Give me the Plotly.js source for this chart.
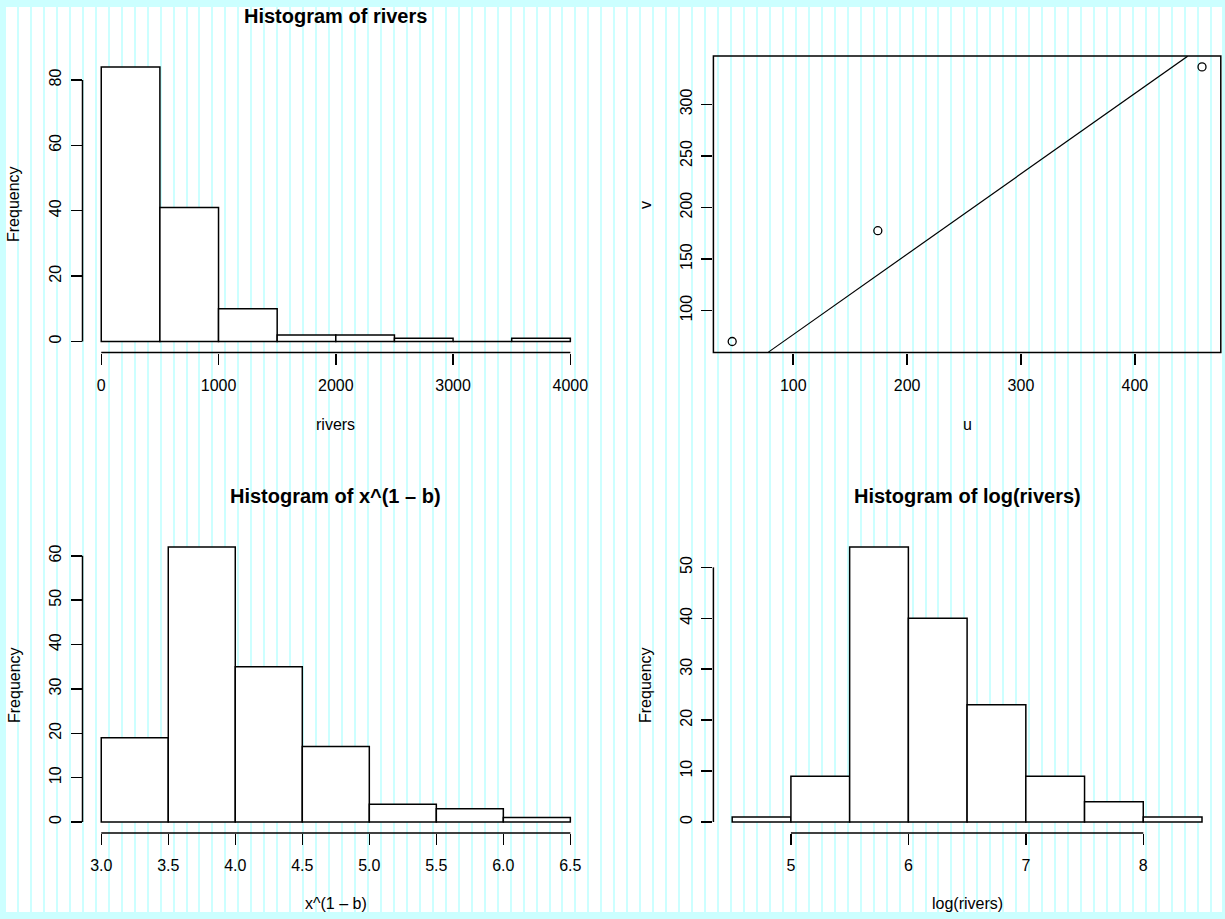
<!DOCTYPE html>
<html>
<head>
<meta charset="utf-8">
<script src="https://cdn.plot.ly/plotly-3.0.1.min.js"></script>
<style>
  html, body { margin: 0; padding: 0; background: #ccffff; }
  #frame { position: absolute; left: 0; top: 0; width: 1225px; height: 919px; background: #ccffff; overflow: hidden; }
  #paper { position: absolute; left: 6px; top: 7px; width: 1216px; height: 905px; background: #ffffff; overflow: hidden; }
  #stripes { position: absolute; left: -1.965px; top: 0; width: 1240px; height: 905px;
    background: repeating-linear-gradient(to right, #ccffff 0px, #ccffff 2px, #ffffff 2px, #ffffff 12.965px); }
  #chart { position: absolute; left: 0; top: 0; width: 1225px; height: 919px; }
</style>
</head>
<body>
<div id="frame"><div id="paper"><div id="stripes"></div></div></div>
<div id="chart"></div>
<script>
// ---------- data ----------
const riversBreaks = [0, 500, 1000, 1500, 2000, 2500, 3000, 3500, 4000];
const riversCounts = [84, 41, 10, 2, 2, 1, 0, 1];

const powBreaks = [3.0, 3.5, 4.0, 4.5, 5.0, 5.5, 6.0, 6.5];
const powCounts = [19, 62, 35, 17, 4, 3, 1];

const logBreaks = [4.5, 5.0, 5.5, 6.0, 6.5, 7.0, 7.5, 8.0, 8.5];
const logCounts = [1, 9, 54, 40, 23, 9, 4, 1];

const u = [46.4, 174.3, 459.0];
const v = [70.0, 177.5, 336.4];
const lineU = [78.2, 446.4];
const lineV = [59.7, 346.8];

const x1Ticks = [0, 1000, 2000, 3000, 4000];
const x1Labels = ["0", "1000", "2000", "3000", "4000"];
const y1Ticks = [0, 20, 40, 60, 80];
const y1Labels = ["0", "20", "40", "60", "80"];

const x2Ticks = [100, 200, 300, 400];
const x2Labels = ["100", "200", "300", "400"];
const y2Ticks = [100, 150, 200, 250, 300];
const y2Labels = ["100", "150", "200", "250", "300"];

const x3Ticks = [3.0, 3.5, 4.0, 4.5, 5.0, 5.5, 6.0, 6.5];
const x3Labels = ["3.0", "3.5", "4.0", "4.5", "5.0", "5.5", "6.0", "6.5"];
const y3Ticks = [0, 10, 20, 30, 40, 50, 60];
const y3Labels = ["0", "10", "20", "30", "40", "50", "60"];

const x4Ticks = [5, 6, 7, 8];
const x4Labels = ["5", "6", "7", "8"];
const y4Ticks = [0, 10, 20, 30, 40, 50];
const y4Labels = ["0", "10", "20", "30", "40", "50"];

const titles = ["Histogram of rivers", "Histogram of x^(1 \u2013 b)", "Histogram of log(rivers)"];
const xLabels = ["rivers", "u", "x^(1 \u2013 b)", "log(rivers)"];
const yLabels = ["Frequency", "v", "Frequency", "Frequency"];

// ---------- layout geometry ----------
const W = 1225, H = 919;
const FONT = "Liberation Sans, Arial, Helvetica, sans-serif";
const px = p => p / W;
const py = p => 1 - p / H;

const colL = [px(82.5), px(589.1)];
const colR = [px(713.4), px(1220.8)];
const rowT = [py(352.5), py(55.9)];
const rowB = [py(833.0), py(536.0)];

function pad(lo, hi) { const d = (hi - lo) * 0.04; return [lo - d, hi + d]; }

function xAxis(domain, range, tv, tt, anchor, extra) {
  return Object.assign({
    domain: domain, range: range, anchor: anchor,
    tickmode: "array", tickvals: tv, ticktext: tt,
    ticks: "outside", ticklen: 11, tickwidth: 1.5, tickcolor: "#000",
    showline: false, showgrid: false, zeroline: false,
    ticklabelstandoff: 7,
    tickfont: { family: FONT, size: 16, color: "#000" },
    fixedrange: true
  }, extra || {});
}
function yAxis(domain, range, tv, tt, anchor, extra) {
  return Object.assign({
    domain: domain, range: range, anchor: anchor,
    tickmode: "array", tickvals: tv, ticktext: tt, tickangle: -90,
    ticks: "outside", ticklen: 11, tickwidth: 1.5, tickcolor: "#000",
    showline: false, showgrid: false, zeroline: false,
    ticklabelstandoff: 3,
    tickfont: { family: FONT, size: 16, color: "#000" },
    fixedrange: true
  }, extra || {});
}

function histTrace(breaks, counts, xa, ya) {
  const mids = [], widths = [];
  for (let i = 0; i < counts.length; i++) {
    mids.push((breaks[i] + breaks[i + 1]) / 2);
    widths.push(breaks[i + 1] - breaks[i]);
  }
  return {
    type: "bar", x: mids, y: counts, width: widths, base: 0,
    marker: { color: "#ffffff", line: { color: "#000", width: 1.5 } },
    xaxis: xa, yaxis: ya, hoverinfo: "skip", showlegend: false
  };
}

const traces = [
  histTrace(riversBreaks, riversCounts, "x", "y"),
  histTrace(powBreaks, powCounts, "x3", "y3"),
  histTrace(logBreaks, logCounts, "x4", "y4"),
  { type: "scatter", mode: "lines", x: lineU, y: lineV, xaxis: "x2", yaxis: "y2",
    line: { color: "#000", width: 1.2 }, hoverinfo: "skip", showlegend: false },
  { type: "scatter", mode: "markers", x: u, y: v, xaxis: "x2", yaxis: "y2",
    marker: { symbol: "circle-open", size: 8, color: "#000", line: { width: 1.3, color: "#000" } },
    hoverinfo: "skip", showlegend: false }
];

function axisLineX(xref, yref, a, b) {
  return { type: "line", xref: xref, yref: yref + " domain", x0: a, x1: b, y0: 0, y1: 0,
           line: { color: "#000", width: 1.5 } };
}
function axisLineY(xref, yref, a, b) {
  return { type: "line", xref: xref + " domain", yref: yref, x0: 0, x1: 0, y0: a, y1: b,
           line: { color: "#000", width: 1.5 } };
}

const shapes = [
  axisLineX("x", "y", x1Ticks[0], x1Ticks[x1Ticks.length - 1]),
  axisLineY("x", "y", y1Ticks[0], y1Ticks[y1Ticks.length - 1]),
  axisLineX("x3", "y3", x3Ticks[0], x3Ticks[x3Ticks.length - 1]),
  axisLineY("x3", "y3", y3Ticks[0], y3Ticks[y3Ticks.length - 1]),
  axisLineX("x4", "y4", x4Ticks[0], x4Ticks[x4Ticks.length - 1]),
  axisLineY("x4", "y4", y4Ticks[0], y4Ticks[y4Ticks.length - 1]),
  { type: "rect", xref: "x2 domain", yref: "y2 domain", x0: 0, x1: 1, y0: 0, y1: 1,
    line: { color: "#000", width: 1.5 } }
];

function ann(text, x, y, opts) {
  return Object.assign({
    text: text, xref: "paper", yref: "paper", x: x, y: y,
    xanchor: "center", yanchor: "middle", showarrow: false,
    font: { family: FONT, size: 16, color: "#000" }
  }, opts || {});
}
const bold = { family: FONT, size: 20, color: "#000", weight: "bold" };
const midL = (colL[0] + colL[1]) / 2, midR = (colR[0] + colR[1]) / 2;

const annotations = [
  ann("<b>" + titles[0] + "</b>", midL, py(16), { font: bold }),
  ann("<b>" + titles[1] + "</b>", midL, py(495.5), { font: bold }),
  ann("<b>" + titles[2] + "</b>", midR, py(495.5), { font: bold }),
  ann(xLabels[0], midL, py(424)),
  ann(xLabels[1], midR, py(424)),
  ann(xLabels[2], midL, py(903.5)),
  ann(xLabels[3], midR, py(903.5)),
  ann(yLabels[0], px(14), py(204), { textangle: -90 }),
  ann(yLabels[1], px(646), py(205), { textangle: -90 }),
  ann(yLabels[2], px(14), py(685), { textangle: -90 }),
  ann(yLabels[3], px(645), py(685), { textangle: -90 })
];

const layout = {
  width: W, height: H,
  margin: { l: 0, r: 0, t: 0, b: 0, pad: 0 },
  paper_bgcolor: "rgba(0,0,0,0)", plot_bgcolor: "rgba(0,0,0,0)",
  showlegend: false, barmode: "overlay",
  font: { family: FONT, size: 16, color: "#000" },
  xaxis:  xAxis(colL, pad(riversBreaks[0], riversBreaks[riversBreaks.length - 1]), x1Ticks, x1Labels, "y"),
  yaxis:  yAxis(rowT, pad(0, Math.max.apply(null, riversCounts)), y1Ticks, y1Labels, "x"),
  xaxis2: xAxis(colR, pad(u[0], u[u.length - 1]), x2Ticks, x2Labels, "y2"),
  yaxis2: yAxis(rowT, pad(v[0], v[v.length - 1]), y2Ticks, y2Labels, "x2"),
  xaxis3: xAxis(colL, pad(powBreaks[0], powBreaks[powBreaks.length - 1]), x3Ticks, x3Labels, "y3"),
  yaxis3: yAxis(rowB, pad(0, Math.max.apply(null, powCounts)), y3Ticks, y3Labels, "x3"),
  xaxis4: xAxis(colR, pad(logBreaks[0], logBreaks[logBreaks.length - 1]), x4Ticks, x4Labels, "y4"),
  yaxis4: yAxis(rowB, pad(0, Math.max.apply(null, logCounts)), y4Ticks, y4Labels, "x4"),
  shapes: shapes,
  annotations: annotations
};

Plotly.newPlot("chart", traces, layout, { displayModeBar: false, staticPlot: true });
</script>
</body>
</html>
